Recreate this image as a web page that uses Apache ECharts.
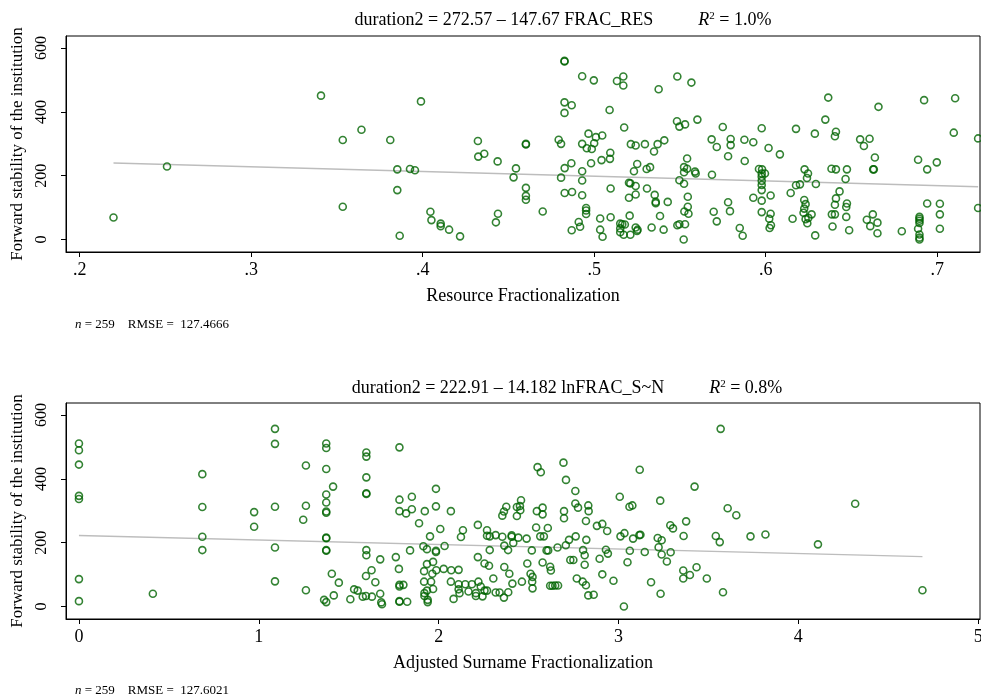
<!DOCTYPE html>
<html><head><meta charset="utf-8">
<script src="https://cdn.jsdelivr.net/npm/echarts@6/dist/echarts.min.js"></script>
<style>html,body{margin:0;padding:0;background:#fff}#c{width:981px;height:698px}</style>
</head><body><div id="c"></div>
<script>
// ---- Panel 1: Resource Fractionalization ----
const fracRes = [0.2197,0.2509,0.3407,0.3534,0.3534,0.3643,
0.3811,0.3852,0.3852,0.3866,0.3926,0.3955,0.399,0.4045,0.4051,0.4105,0.4105,0.4154,0.4218,0.4322,0.4324,0.4359,0.4437,0.4427,0.4439,0.453,0.4544,0.4602,0.4602,0.4602,0.4602,0.4602,0.47,0.4793,0.4807,0.4827,0.4827,0.4827,0.4869,0.4827,0.4807,0.4828,0.4867,0.4828,0.4871,0.493,0.4998,0.493,0.4967,0.4957,0.4986,0.5,0.501,0.5047,0.493,0.493,0.493,0.4982,0.5043,0.5092,0.5094,0.5096,0.4953,0.4953,0.4953,0.491,0.4869,0.4918,0.5035,0.5035,0.5049,0.5096,0.509,0.5133,0.517,0.517,0.5175,0.5214,0.5242,0.5296,0.537,0.5409,0.5349,0.5376,0.5485,0.5483,0.5497,0.553,0.5542,0.5524,0.5542,0.5524,0.5497,0.5524,0.5251,0.5232,0.5306,0.5326,0.5203,0.5211,0.5242,0.5242,0.5203,0.5308,0.5353,0.5359,0.5359,0.5429,0.5546,0.5546,0.5526,0.555,0.5384,0.5207,0.5152,0.5164,0.5152,0.5179,0.5152,0.5172,0.5211,0.5242,0.5253,0.525,0.5335,0.5405,0.5485,0.5497,0.553,0.5522,0.5567,
0.5588,0.5592,0.5602,0.5685,0.5715,0.575,0.5796,0.5796,0.5781,0.5876,0.5878,0.5928,0.5977,0.6017,0.6083,0.5687,0.5961,0.5979,0.5977,0.5996,0.5977,0.5977,0.5977,0.5977,0.5928,0.5977,0.6029,0.5977,0.6029,0.6021,0.6031,0.6023,0.5781,0.5792,0.5697,0.5715,0.5849,0.5866,0.6177,0.6287,0.6348,0.6365,0.641,0.6404,0.6227,0.6247,0.6241,0.6293,0.62,0.6177,0.6146,0.6225,0.6233,0.6225,0.6221,0.6268,0.6249,0.6233,0.6243,0.6157,0.6289,0.6384,0.641,0.6474,0.6466,0.6431,0.641,0.6404,0.6474,0.647,0.6386,0.6404,0.647,0.639,0.6487,0.6551,0.6606,0.6573,0.6658,0.6637,0.6627,0.6631,0.6625,0.659,0.6652,0.661,0.6652,0.6794,0.6889,0.6942,0.6998,0.6942,0.7016,0.7016,0.7016,0.6897,0.6897,0.6897,0.6897,0.6889,0.6897,0.6897,0.6897,0.6924,0.7105,0.7097,0.7239,0.7239];
const durationTop = [69,229,451,312,103,344,
312,220,155,12,221,217,433,87,61,50,42,31,10,309,260,269,245,54,81,195,223,298,300,162,137,125,88,313,300,558,560,430,421,397,194,224,239,146,149,512,499,300,332,286,284,302,321,326,214,185,139,239,249,253,272,160,99,91,80,55,29,40,66,31,9,70,406,497,511,483,351,299,295,299,299,311,276,471,511,371,354,361,254,227,222,211,186,175,237,214,221,227,178,176,168,141,131,160,140,118,114,118,134,103,88,81,74,75,50,48,35,47,23,15,15,38,31,27,38,31,45,48,48,0,492,
213,207,376,314,290,353,315,296,261,313,246,305,349,287,267,203,221,220,207,207,197,184,171,155,131,122,138,86,81,65,45,36,117,89,87,57,36,12,347,332,376,445,338,324,220,207,193,174,173,170,146,124,111,97,84,79,68,64,51,65,13,222,220,220,190,151,129,109,113,102,79,79,71,41,29,314,316,293,416,257,220,220,79,62,53,42,20,26,250,220,242,113,112,79,34,71,65,59,52,34,16,6,0,437,443,335,317,99];

// ---- Panel 2: Adjusted Surname Fractionalization ----
const lnFracSN = [0,0,0,0,0,0,0,0.411,0.686,0.686,0.686,0.686,0.974,0.974,1.09,1.09,1.09,1.09,1.09,1.262,1.262,1.247,1.262,1.375,1.375,1.375,1.413,1.375,1.375,1.375,1.375,1.375,1.375,1.375,1.375,1.406,1.445,1.417,1.363,1.375,1.509,1.53,1.55,1.578,1.596,1.629,1.598,1.598,1.598,1.598,1.598,1.598,1.598,1.596,1.627,1.648,1.675,1.675,1.681,1.685,
1.782,1.782,1.782,1.819,1.851,1.851,1.891,1.923,1.985,1.985,2.009,2.068,1.952,1.915,1.935,1.985,1.985,2.033,1.841,1.762,1.779,1.782,1.782,1.804,1.782,1.782,1.825,1.935,1.969,1.965,1.987,1.919,1.919,1.958,1.969,1.935,1.921,1.921,1.939,1.939,2.028,2.07,2.111,2.068,2.111,2.111,2.116,2.083,2.148,2.166,2.185,2.207,2.207,2.221,2.234,2.244,2.269,2.255,2.124,2.135,2.218,2.218,2.255,2.28,2.304,2.269,2.269,2.284,2.317,2.284,2.354,2.354,2.363,2.376,2.365,2.365,2.393,2.41,2.387,2.363,2.339,2.317,2.386,2.406,2.406,2.415,2.443,2.435,2.435,2.452,2.458,2.454,2.489,2.518,2.463,2.493,2.511,2.522,2.52,2.522,2.546,2.542,2.55,2.568,2.578,2.578,2.565,2.585,2.607,2.6,2.609,2.578,2.62,2.624,2.62,2.633,2.648,2.664,2.661,2.694,2.708,2.697,2.697,2.707,2.725,2.732,2.749,2.76,2.76,2.775,2.762,2.768,2.801,2.803,2.812,2.812,2.819,2.832,2.834,2.819,2.821,2.832,2.862,2.88,2.91,2.937,2.895,2.91,2.93,2.941,2.972,3.007,3.011,3.033,3.05,3.063,3.061,3.077,3.03,3.118,3.116,3.122,3.081,3.146,3.181,3.232,3.218,3.24,3.223,3.24,3.269,3.288,3.303,3.29,3.234,3.362,3.36,3.36,3.376,
3.397,3.434,3.423,3.491,3.541,3.563,3.568,3.581,3.607,3.655,3.734,3.817,4.109,4.316,4.69];
const durationBottom = [511,490,445,347,337,86,17,40,415,312,219,177,296,250,557,510,313,185,79,442,316,272,51,511,497,431,376,351,326,298,294,216,214,177,175,103,75,35,21,14,23,54,50,31,33,31,483,470,405,355,353,177,161,96,114,76,148,40,13,7,
499,335,299,292,344,305,261,299,369,314,243,299,220,189,180,175,171,190,176,155,118,68,63,68,17,15,15,133,140,103,114,111,78,78,55,50,42,33,21,14,118,114,115,78,70,54,42,24,70,47,70,42,33,78,63,32,50,50,218,239,256,155,135,128,88,239,222,220,224,177,219,285,298,313,191,124,103,72,45,28,44,44,177,219,223,199,216,284,312,315,333,302,213,176,78,135,103,93,78,57,299,248,437,421,310,289,220,220,246,176,176,138,125,113,65,65,66,66,185,451,397,299,277,192,209,146,146,362,323,310,220,88,78,177,161,131,67,317,299,268,209,35,37,253,259,237,150,101,178,166,81,344,220,230,139,175,313,317,0,429,224,225,213,171,76,332,215,208,186,163,141,255,245,170,40,221,113,88,267,
99,123,376,88,221,202,557,45,308,286,220,226,195,322,51];

// tick values and labels
const xTicksTop = [0.2, 0.3, 0.4, 0.5, 0.6, 0.7];
const xTicksBottom = [0, 1, 2, 3, 4, 5];
const yTicks = [0, 200, 400, 600];
// fitted regression coefficients (from the titles)
const fitTop = [272.57, -147.67];
const fitBottom = [222.91, -14.182];

const FONT = 'Liberation Serif';
const GREEN = '#006400';
const chart = echarts.init(document.getElementById('c'));

function fitLine(xs, coef) {
  const lo = Math.min(...xs), hi = Math.max(...xs);
  return [[lo, coef[0] + coef[1] * lo], [hi, coef[0] + coef[1] * hi]];
}
function xAxis(idx, min, max, ticks, name, fmt) {
  return {
    type: 'value', gridIndex: idx, min: min, max: max,
    name: name, nameLocation: 'middle', nameGap: 35,
    nameTextStyle: {fontFamily: FONT, fontSize: 18, color: '#000'},
    axisLine: {show: true, onZero: false, lineStyle: {color: '#000', width: 1}},
    axisTick: {show: true, length: 5, customValues: ticks, lineStyle: {color: '#000'}},
    axisLabel: {customValues: ticks, formatter: fmt, fontFamily: FONT, fontSize: 18, color: '#000', margin: 9},
    splitLine: {show: false}
  };
}
function yAxis(idx) {
  return {
    type: 'value', gridIndex: idx, min: -39, max: 638,
    name: 'Forward stability of the institution', nameLocation: 'middle', nameGap: 39, nameRotate: 90,
    nameTextStyle: {fontFamily: FONT, fontSize: 17, color: '#000'},
    axisLine: {show: true, onZero: false, lineStyle: {color: '#000', width: 1}},
    axisTick: {show: true, length: 5, customValues: yTicks, lineStyle: {color: '#000'}},
    axisLabel: {customValues: yTicks, rotate: 90, fontFamily: FONT, fontSize: 16, color: '#000', margin: 16},
    splitLine: {show: false}
  };
}
const richTitle = {
  t: {fontFamily: FONT, fontSize: 18, fontWeight: 'normal', color: '#000'},
  i: {fontFamily: FONT, fontSize: 18, fontWeight: 'normal', fontStyle: 'italic', color: '#000'},
  s: {fontFamily: FONT, fontSize: 11, fontWeight: 'normal', color: '#000', verticalAlign: 'top', padding: [0, 0, 8, 0]}
};
const richNote = {
  t: {fontFamily: FONT, fontSize: 13, fontWeight: 'normal', color: '#000'},
  i: {fontFamily: FONT, fontSize: 13, fontWeight: 'normal', fontStyle: 'italic', color: '#000'}
};
const scatterStyle = {color: 'rgba(0,0,0,0)', borderColor: GREEN, borderWidth: 1.6};
const GAP = '          ';

chart.setOption({
  animation: false,
  backgroundColor: '#fff',
  title: [
    {text: '{t|duration2 = 272.57 – 147.67 FRAC_RES' + GAP + '}{i|R}{s|2}{t| = 1.0%}', left: 558, top: 6, textAlign: 'center', textStyle: {fontWeight: 'normal', rich: richTitle}},
    {text: '{t|duration2 = 222.91 – 14.182 lnFRAC_S~N' + GAP + '}{i|R}{s|2}{t| = 0.8%}', left: 562, top: 374, textAlign: 'center', textStyle: {fontWeight: 'normal', rich: richTitle}},
    {text: '{i|n}{t| = 259    RMSE =  127.4666}', left: 70, top: 313, textStyle: {fontWeight: 'normal', rich: richNote}},
    {text: '{i|n}{t| = 259    RMSE =  127.6021}', left: 70, top: 679, textStyle: {fontWeight: 'normal', rich: richNote}}
  ],
  grid: [
    {left: 66, right: 1, top: 36, height: 216, outerBoundsMode: 'none', containLabel: false, show: true, borderColor: '#000', borderWidth: 1, backgroundColor: '#fff'},
    {left: 66, right: 1, top: 403, height: 216, outerBoundsMode: 'none', containLabel: false, show: true, borderColor: '#000', borderWidth: 1, backgroundColor: '#fff'}
  ],
  xAxis: [
    xAxis(0, 0.192, 0.725, xTicksTop, 'Resource Fractionalization', v => String(Math.round(v * 10) / 10).replace(/^0/, '')),
    xAxis(1, -0.072, 5.01, xTicksBottom, 'Adjusted Surname Fractionalization', v => String(v))
  ],
  yAxis: [yAxis(0), yAxis(1)],
  series: [
    {type: 'line', xAxisIndex: 0, yAxisIndex: 0, data: fitLine(fracRes, fitTop), symbol: 'none', lineStyle: {color: '#bdbdbd', width: 1.4}, z: 1},
    {type: 'scatter', xAxisIndex: 0, yAxisIndex: 0, data: fracRes.map((x, i) => [x, durationTop[i]]), symbol: 'circle', symbolSize: 7, itemStyle: scatterStyle, z: 2},
    {type: 'line', xAxisIndex: 1, yAxisIndex: 1, data: fitLine(lnFracSN, fitBottom), symbol: 'none', lineStyle: {color: '#bdbdbd', width: 1.4}, z: 1},
    {type: 'scatter', xAxisIndex: 1, yAxisIndex: 1, data: lnFracSN.map((x, i) => [x, durationBottom[i]]), symbol: 'circle', symbolSize: 7, itemStyle: scatterStyle, z: 2}
  ]
});
</script>
</body></html>
